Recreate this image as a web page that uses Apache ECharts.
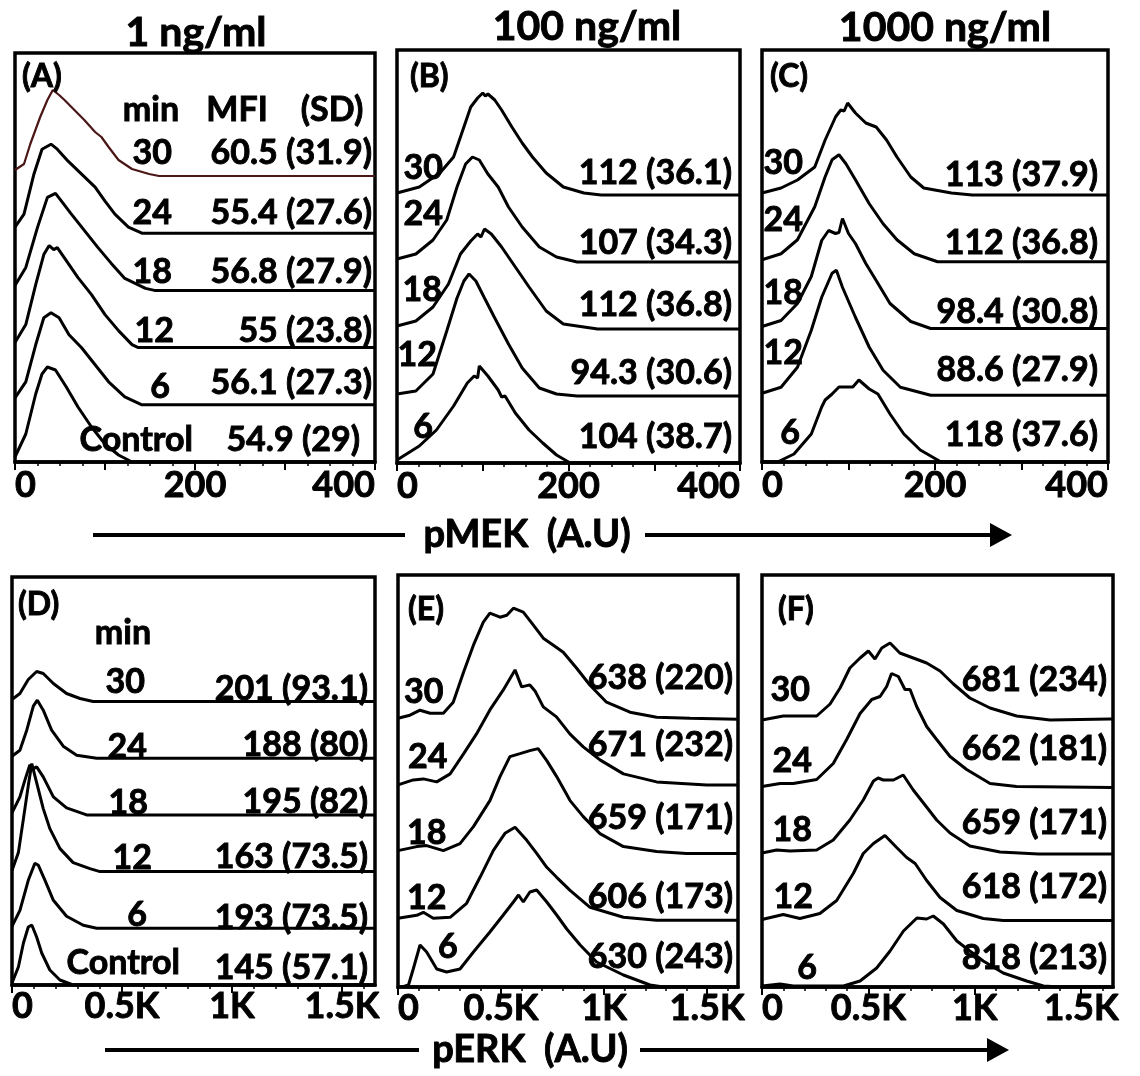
<!DOCTYPE html>
<html>
<head>
<meta charset="utf-8">
<title>pMEK / pERK histograms</title>
<script src="https://cdn.jsdelivr.net/npm/echarts@6/dist/echarts.min.js"></script>
<style>
    html, body { margin: 0; padding: 0; background: #fff; }
    #chart { width: 1140px; height: 1076px; }
</style>
</head>
<body>
<div id="chart"></div>
<script>
(function () {
    'use strict';

    // tick labels
    var mekTickLabels = [0, 200, 400];
    var erkTickLabels = [0, 500, 1000, 1500];

    var doses = ['1 ng/ml', '100 ng/ml', '1000 ng/ml'];
    var rowsWithControl = ['30', '24', '18', '12', '6', 'Control'];
    var rows = ['30', '24', '18', '12', '6'];

    // MFI (SD), top row first
    var mfiA = ['60.5 (31.9)', '55.4 (27.6)', '56.8 (27.9)', '55 (23.8)', '56.1 (27.3)', '54.9 (29)'];
    var mfiB = ['112 (36.1)', '107 (34.3)', '112 (36.8)', '94.3 (30.6)', '104 (38.7)'];
    var mfiC = ['113 (37.9)', '112 (36.8)', '98.4 (30.8)', '88.6 (27.9)', '118 (37.6)'];
    var mfiD = ['201 (93.1)', '188 (80)', '195 (82)', '163 (73.5)', '193 (73.5)', '145 (57.1)'];
    var mfiE = ['638 (220)', '671 (232)', '659 (171)', '606 (173)', '630 (243)'];
    var mfiF = ['681 (234)', '662 (181)', '659 (171)', '618 (172)', '818 (213)'];

    // histogram outlines [intensity, count height], top row first
    var curvesA = [
        [[0, 6], [10, 12], [17, 32], [28, 59], [36, 76], [42, 86], [49, 81], [55, 76], [66, 66], [77, 56], [89, 44], [96, 39], [104, 29], [115, 16], [130, 7], [149, 2], [160, 0], [400, 0]],
        [[0, 6], [10, 19], [21, 59], [30, 84], [40, 89], [47, 84], [59, 72], [74, 59], [89, 46], [100, 32], [111, 19], [126, 6], [141, 0], [400, 0]],
        [[0, 5], [12, 23], [25, 63], [36, 93], [45, 97], [51, 90], [62, 77], [77, 60], [92, 43], [107, 27], [122, 12], [145, 2], [155, 0], [400, 0]],
        [[0, 5], [12, 23], [23, 63], [32, 93], [38, 102], [43, 98], [47, 100], [57, 87], [70, 70], [85, 53], [100, 33], [115, 17], [130, 3], [137, 0], [400, 0]],
        [[0, 7], [12, 23], [23, 60], [32, 87], [40, 92], [49, 87], [60, 70], [74, 57], [89, 40], [104, 23], [122, 8], [141, 0], [400, 0]],
        [[0, 5], [12, 28], [23, 68], [30, 88], [36, 95], [45, 92], [57, 75], [70, 55], [85, 35], [100, 18], [115, 7], [130, 0], [400, 0]]
    ];
    var curvesB = [
        [[0, 2], [26, 8], [50, 22], [66, 38], [78, 68], [86, 88], [94, 97], [100, 102], [103, 99], [106, 101], [114, 95], [122, 85], [134, 68], [146, 52], [158, 38], [174, 22], [194, 8], [218, 2], [238, 0], [400, 0]],
        [[0, 3], [22, 8], [42, 22], [58, 42], [70, 75], [80, 98], [88, 105], [96, 102], [106, 88], [118, 75], [130, 55], [146, 35], [166, 15], [186, 5], [210, 0], [400, 0]],
        [[0, 3], [22, 8], [42, 22], [60, 45], [74, 75], [86, 88], [94, 95], [98, 92], [102, 100], [110, 95], [122, 82], [138, 62], [154, 42], [174, 18], [194, 5], [234, 0], [400, 0]],
        [[0, 2], [22, 5], [42, 22], [58, 65], [70, 98], [78, 115], [84, 122], [92, 115], [102, 98], [114, 78], [130, 52], [146, 28], [166, 8], [186, 2], [210, 0], [400, 0]],
        [[0, 3], [26, 17], [46, 33], [66, 57], [82, 80], [90, 87], [94, 85], [96, 97], [106, 87], [118, 73], [122, 66], [126, 67], [138, 50], [154, 33], [170, 20], [186, 8], [202, 0], [400, 0]]
    ];
    var curvesC = [
        [[0, 2], [22, 7], [41, 15], [61, 28], [73, 55], [85, 78], [91, 85], [95, 84], [99, 92], [108, 82], [120, 72], [132, 68], [144, 55], [156, 38], [172, 18], [187, 7], [219, 2], [243, 0], [400, 0]],
        [[0, 2], [22, 8], [41, 22], [61, 55], [73, 85], [81, 102], [89, 107], [97, 98], [108, 82], [124, 58], [140, 38], [156, 22], [176, 8], [203, 0], [400, 0]],
        [[0, 2], [22, 8], [41, 25], [57, 52], [69, 88], [77, 98], [85, 95], [89, 96], [93, 110], [100, 95], [108, 85], [120, 65], [132, 48], [148, 25], [172, 7], [195, 0], [400, 0]],
        [[0, 2], [22, 8], [41, 28], [57, 65], [69, 98], [81, 122], [86, 125], [93, 108], [108, 78], [124, 48], [140, 25], [160, 8], [195, 0], [400, 0]],
        [[0, 0], [18, 0], [37, 8], [57, 28], [69, 55], [73, 62], [81, 68], [89, 75], [97, 75], [105, 75], [112, 82], [124, 73], [134, 68], [148, 48], [164, 28], [183, 12], [207, 0], [400, 0]]
    ];
    var curvesD = [
        [[0, 2], [36, 8], [74, 22], [112, 30], [142, 28], [188, 18], [248, 8], [309, 3], [369, 0], [1650, 0]],
        [[0, 2], [36, 8], [67, 28], [97, 52], [115, 58], [142, 48], [180, 28], [233, 12], [294, 3], [385, 0], [1650, 0]],
        [[0, 2], [36, 18], [59, 35], [81, 50], [95, 46], [112, 48], [142, 38], [188, 18], [248, 7], [339, 0], [1650, 0]],
        [[0, 1], [29, 19], [52, 53], [74, 86], [90, 108], [112, 89], [142, 63], [172, 43], [218, 23], [278, 9], [354, 3], [400, 0], [1650, 0]],
        [[0, 2], [36, 18], [74, 48], [104, 65], [120, 63], [150, 48], [188, 28], [248, 12], [324, 3], [385, 0], [1650, 0]],
        [[0, 2], [29, 18], [52, 42], [74, 58], [90, 60], [112, 48], [135, 32], [172, 15], [218, 5], [278, 0], [1650, 0]]
    ];
    var curvesE = [
        [[0, 2], [58, 5], [107, 10], [156, 7], [220, 7], [268, 18], [318, 48], [366, 75], [414, 98], [446, 107], [495, 103], [528, 105], [560, 112], [608, 108], [657, 95], [705, 82], [754, 75], [802, 68], [867, 52], [932, 35], [1012, 18], [1126, 8], [1255, 3], [1417, 2], [1650, 1]],
        [[0, 2], [74, 7], [123, 8], [188, 5], [253, 13], [318, 33], [381, 53], [446, 77], [511, 97], [568, 117], [600, 100], [640, 102], [665, 96], [705, 80], [769, 70], [834, 53], [899, 40], [980, 27], [1094, 13], [1255, 5], [1498, 2], [1650, 2]],
        [[0, 3], [91, 7], [139, 8], [220, 3], [301, 10], [366, 27], [446, 53], [495, 77], [543, 97], [592, 100], [640, 103], [680, 105], [722, 93], [770, 77], [835, 53], [899, 37], [980, 20], [1094, 7], [1255, 2], [1400, 0], [1650, 0]],
        [[0, 2], [91, 5], [123, 8], [171, 2], [253, 3], [333, 17], [398, 43], [463, 70], [519, 87], [568, 93], [625, 80], [673, 67], [722, 53], [770, 43], [835, 30], [932, 13], [1094, 3], [1255, 0], [1650, 0]],
        [[20, 0], [51, 2], [74, 18], [107, 42], [139, 35], [188, 18], [236, 15], [301, 18], [366, 35], [446, 55], [511, 72], [560, 85], [585, 92], [608, 85], [640, 95], [673, 97], [722, 85], [770, 72], [819, 58], [884, 42], [964, 25], [1094, 12], [1223, 2], [1288, 0], [1650, 0]]
    ];
    var curvesF = [
        [[0, 1], [100, 5], [178, 5], [257, 5], [320, 17], [367, 33], [413, 53], [461, 63], [500, 70], [531, 62], [563, 73], [602, 78], [648, 68], [711, 63], [774, 58], [837, 50], [900, 37], [977, 23], [1072, 13], [1197, 5], [1354, 1], [1636, 2], [1650, 2]],
        [[0, 1], [85, 4], [147, 4], [257, 8], [335, 24], [398, 48], [461, 74], [516, 88], [555, 91], [586, 101], [609, 114], [641, 111], [672, 98], [696, 98], [727, 81], [774, 61], [821, 48], [884, 31], [962, 18], [1072, 4], [1197, 1], [1650, 0]],
        [[0, 1], [69, 4], [132, 3], [257, 4], [335, 14], [413, 34], [476, 54], [524, 73], [546, 76], [570, 74], [618, 74], [664, 79], [711, 64], [759, 51], [821, 34], [884, 21], [977, 8], [1119, 2], [1300, 0], [1650, 0]],
        [[0, 1], [100, 6], [178, 2], [272, 7], [351, 20], [429, 47], [476, 67], [524, 77], [578, 85], [633, 73], [680, 63], [720, 57], [774, 40], [837, 23], [916, 10], [1040, 2], [1134, 0], [1650, 0]],
        [[0, 1], [85, 3], [147, 1], [383, 1], [461, 6], [539, 19], [602, 36], [665, 56], [728, 69], [774, 68], [805, 71], [853, 63], [916, 46], [977, 36], [1040, 26], [1134, 14], [1244, 6], [1323, 1], [1400, 0], [1650, 0]]
    ];

    var FONT = 'Lato, "Open Sans", sans-serif';

    // layout of the six boxes: [left, top, width, height], row step in px
    var panels = [
        {tag: '(A)', tagPos: [22, 77], box: [15, 53, 360, 409], step: 57.2, kind: 'mek', rows: rowsWithControl, curves: curvesA, mfi: mfiA,
            timeX: [172, 172, 172, 174, 170, 193], timeDy: [23, 20, 18, 17, 18, 22], timeAlign: 'right',
            mfiX: [372, 372, 372, 372, 372, 360], mfiDy: [23, 20, 18, 17, 22, 22]},
        {tag: '(B)', tagPos: [410, 77], box: [397, 50, 343, 413], step: 67, kind: 'mek', rows: rows, curves: curvesB, mfi: mfiB,
            timeX: [443, 443, 442, 437, 433], timeDy: [27, 48, 39, 41, 36], timeAlign: 'right',
            mfiX: [732, 732, 732, 732, 732], mfiDy: [22, 19, 24, 23, 26]},
        {tag: '(C)', tagPos: [770, 77], box: [762, 50, 346, 412], step: 66.75, kind: 'mek', rows: rows, curves: curvesC, mfi: mfiC,
            timeX: [803, 803, 803, 803, 800], timeDy: [32, 42, 35, 42, 29], timeAlign: 'right',
            mfiX: [1098, 1098, 1098, 1098, 1098], mfiDy: [20, 19, 16, 25, 27]},
        {tag: '(D)', tagPos: [18, 605], box: [12, 577, 363, 408], step: 56.7, kind: 'erk', rows: rowsWithControl, curves: curvesD, mfi: mfiD,
            timeX: [145, 147, 148, 152, 147, 180], timeDy: [19, 11, 12, 14, 13, 22], timeAlign: 'right',
            mfiX: [368, 368, 368, 368, 368, 368], mfiDy: [12, 13, 13, 15, 10, 17]},
        {tag: '(E)', tagPos: [408, 610], box: [398, 575, 340, 412], step: 66.7, kind: 'erk', rows: rows, curves: curvesE, mfi: mfiE,
            timeX: [404, 408, 407, 407, 438], timeDy: [28, 30, 21, 22, 40], timeAlign: 'left',
            mfiX: [733, 733, 733, 733, 733], mfiDy: [42, 42, 36, 23, 30]},
        {tag: '(F)', tagPos: [778, 610], box: [762, 575, 351, 412], step: 66.5, kind: 'erk', rows: rows, curves: curvesF, mfi: mfiF,
            timeX: [810, 812, 812, 813, 817], timeDy: [31, 26, 24, 23, 19], timeAlign: 'right',
            mfiX: [1107, 1107, 1107, 1107, 1107], mfiDy: [41, 38, 31, 33, 29]}
    ];

    function range(from, to, step) {
        var out = [];
        for (var v = from; v <= to; v += step) {
            out.push(v);
        }
        return out;
    }

    // bold text, with a thin outline so it reads as heavy as the scanned figure
    function txt(text, x, y, size, align) {
        return {
            type: 'text', x: x, y: y, z: 10,
            style: {
                text: text, fill: '#000', stroke: '#000', lineWidth: 0.9,
                align: align || 'center', verticalAlign: 'middle',
                font: 'bold ' + size + 'px ' + FONT
            }
        };
    }

    var grids = [], xAxes = [], yAxes = [], series = [], graphics = [];

    panels.forEach(function (p, gi) {
        var isMek = p.kind === 'mek';
        var max = isMek ? 400 : 1650;
        var bottom = p.box[1] + p.box[3];

        grids.push({
            left: p.box[0], top: p.box[1], width: p.box[2], height: p.box[3],
            show: true, borderColor: '#000', borderWidth: 3.5, backgroundColor: 'transparent'
        });

        // labels + small ticks
        xAxes.push({
            gridIndex: gi, type: 'value', min: 0, max: max, position: 'bottom',
            axisLine: {show: true, onZero: false, lineStyle: {color: '#000', width: 3.5}},
            axisTick: {show: true, customValues: isMek ? range(0, 400, 25) : range(0, 1600, 100), length: 4, lineStyle: {color: '#000', width: 1.5}},
            axisLabel: {
                customValues: isMek ? mekTickLabels : erkTickLabels,
                color: '#000', fontSize: 36, fontWeight: 'bold', fontFamily: FONT,
                textBorderColor: '#000', textBorderWidth: 0.9,
                margin: isMek ? 5 : 3,
                alignMinLabel: 'left', alignMaxLabel: isMek ? 'right' : null,
                formatter: function (v) {
                    if (isMek) return String(v);
                    return v === 0 ? '0' : (v / 1000) + 'K';
                }
            },
            splitLine: {show: false}
        });
        // longer major ticks
        xAxes.push({
            gridIndex: gi, type: 'value', min: 0, max: max, position: 'bottom',
            axisLine: {show: false},
            axisTick: {show: true, customValues: isMek ? range(0, 400, 100) : range(0, 1500, 500), length: 8, lineStyle: {color: '#000', width: 2}},
            axisLabel: {show: false},
            splitLine: {show: false}
        });
        yAxes.push({gridIndex: gi, type: 'value', min: 0, max: p.box[3], show: false});

        var n = p.curves.length;
        p.curves.forEach(function (curve, ri) {
            var offset = (n - 1 - ri) * p.step;
            var first = gi === 0 && ri === 0;
            series.push({
                type: 'line',
                name: p.tag + ' ' + p.rows[ri],
                xAxisIndex: gi * 2,
                yAxisIndex: gi,
                data: curve.map(function (d) { return [d[0], d[1] + offset]; }),
                symbol: 'none',
                silent: true,
                animation: false,
                lineStyle: {color: first ? '#4a1616' : '#000', width: first ? 2.2 : 3}
            });

            var baseY = bottom - offset;
            graphics.push(txt(p.rows[ri], p.timeX[ri], baseY - p.timeDy[ri], 34, p.timeAlign));
            graphics.push(txt(p.mfi[ri], p.mfiX[ri], baseY - p.mfiDy[ri], 34, 'right'));
        });

        graphics.push(txt(p.tag, p.tagPos[0], p.tagPos[1], 32, 'left'));
    });

    // column titles
    graphics.push(txt(doses[0], 196, 33, 41));
    graphics.push(txt(doses[1], 587, 27, 41));
    graphics.push(txt(doses[2], 945, 28, 41));

    // column headers inside A and D
    graphics.push(txt('min', 151, 110, 34));
    graphics.push(txt('MFI', 237, 110, 34));
    graphics.push(txt('(SD)', 332, 110, 34));
    graphics.push(txt('min', 123, 633, 34));

    // axis names with arrows
    function arrowRow(label, y, x0, x1, x2, tip, cx) {
        graphics.push({type: 'line', shape: {x1: x0, y1: y, x2: x1, y2: y}, style: {stroke: '#000', lineWidth: 4}});
        graphics.push({type: 'line', shape: {x1: x2, y1: y, x2: tip - 18, y2: y}, style: {stroke: '#000', lineWidth: 4}});
        graphics.push({type: 'polygon', shape: {points: [[tip - 22, y - 12], [tip, y], [tip - 22, y + 12]]}, style: {fill: '#000'}});
        graphics.push(txt(label, cx, y, 38));
    }
    arrowRow('pMEK  (A.U)', 535, 93, 405, 645, 1012, 527);
    arrowRow('pERK  (A.U)', 1050, 105, 419, 640, 1009, 530);

    var chart = echarts.init(document.getElementById('chart'), null, {renderer: 'canvas'});
    chart.setOption({
        backgroundColor: '#fff',
        animation: false,
        grid: grids,
        xAxis: xAxes,
        yAxis: yAxes,
        series: series,
        graphic: {elements: graphics}
    });
})();
</script>
</body>
</html>
